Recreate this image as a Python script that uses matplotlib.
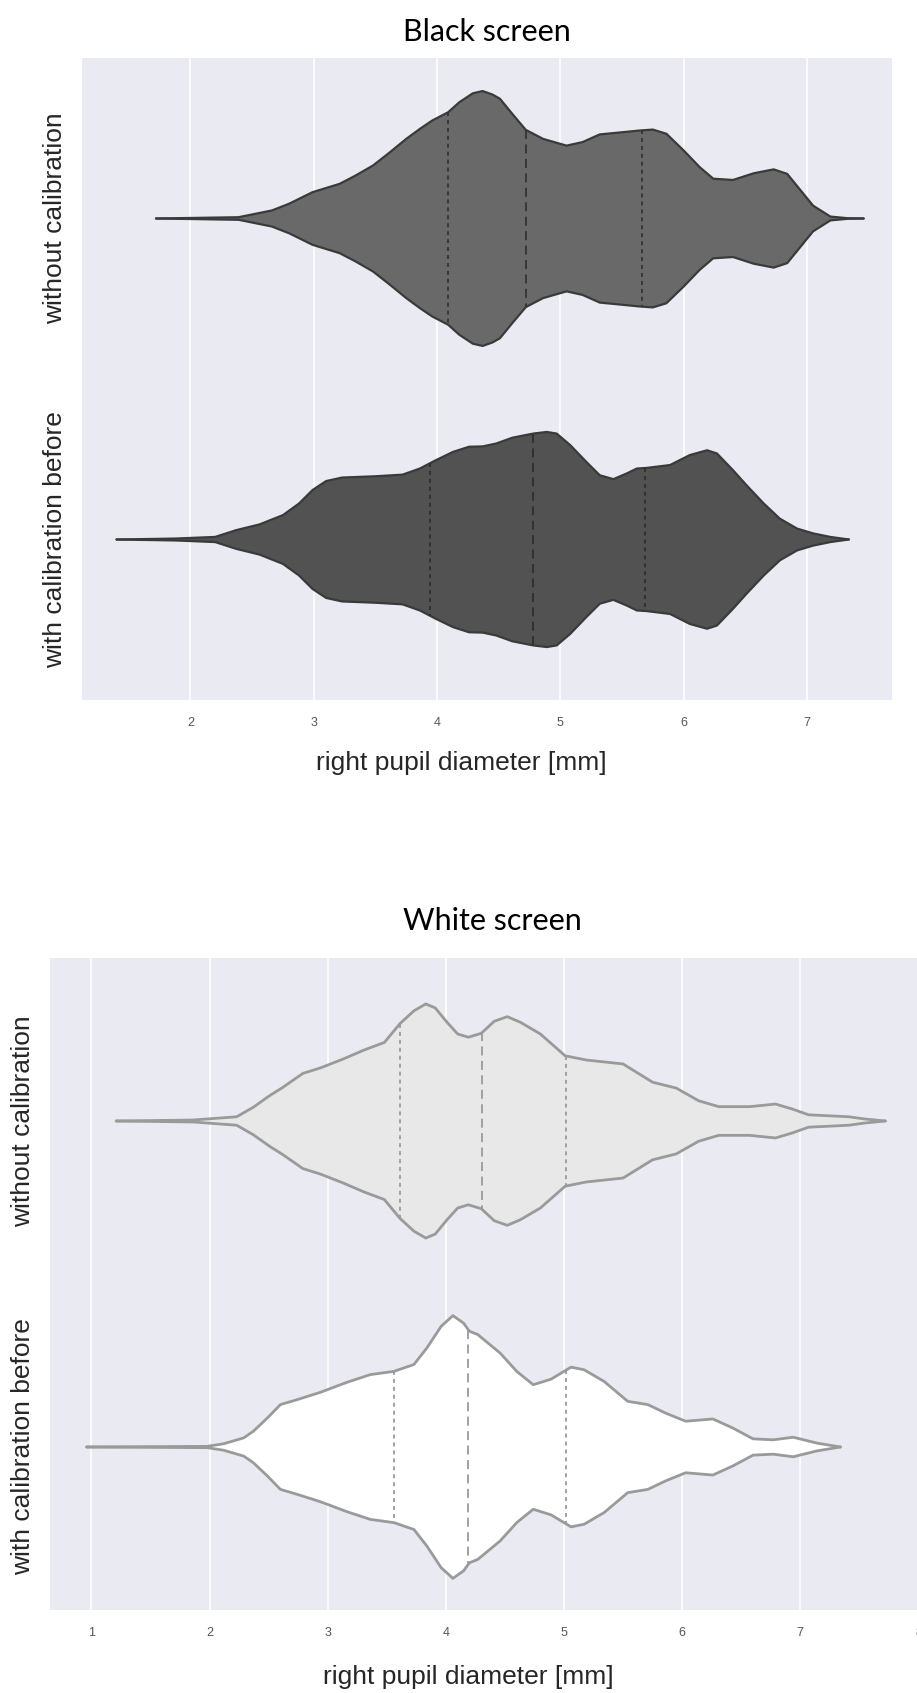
import matplotlib.pyplot as plt
import numpy as np

plt.rcParams.update({'font.family': 'Liberation Sans'})

categories = ["without calibration", "with calibration before"]

# Black screen - violin outlines (x in mm, half-width in category units)
black_without_x = [1.72, 2.39, 2.66, 2.80, 2.99, 3.21, 3.34, 3.48, 3.61, 3.75, 3.86, 3.96, 4.09, 4.18,
                   4.29, 4.37, 4.45, 4.51, 4.61, 4.72, 4.86, 5.05, 5.18, 5.32, 5.51, 5.64, 5.75, 5.86,
                   6.00, 6.13, 6.24, 6.40, 6.57, 6.73, 6.84, 6.95, 7.05, 7.19, 7.33, 7.46]
black_without_w = [0.0, 0.004, 0.025, 0.046, 0.082, 0.108, 0.134, 0.165, 0.204, 0.248, 0.279, 0.305,
                   0.331, 0.362, 0.39, 0.397, 0.386, 0.373, 0.326, 0.276, 0.248, 0.227, 0.238, 0.262,
                   0.269, 0.274, 0.277, 0.264, 0.212, 0.16, 0.124, 0.12, 0.141, 0.153, 0.139, 0.087,
                   0.04, 0.006, 0.001, 0.0]
black_without_q = [4.09, 4.72, 5.66]

black_with_x = [1.40, 1.88, 2.20, 2.37, 2.56, 2.75, 2.88, 2.99, 3.10, 3.23, 3.50, 3.72, 3.86, 3.99, 4.13,
                4.26, 4.37, 4.48, 4.61, 4.78, 4.89, 4.97, 5.08, 5.21, 5.32, 5.43, 5.54, 5.62, 5.70,
                5.89, 6.05, 6.19, 6.27, 6.40, 6.51, 6.65, 6.78, 6.92, 7.05, 7.19, 7.34]
black_with_w = [0.0, 0.003, 0.008, 0.029, 0.047, 0.076, 0.112, 0.154, 0.182, 0.193, 0.197, 0.202, 0.221,
                0.247, 0.273, 0.289, 0.29, 0.299, 0.317, 0.33, 0.335, 0.33, 0.294, 0.242, 0.20, 0.188,
                0.206, 0.221, 0.223, 0.232, 0.263, 0.278, 0.268, 0.216, 0.169, 0.112, 0.065, 0.034,
                0.019, 0.008, 0.0]
black_with_q = [3.94, 4.78, 5.69]

# White screen
white_without_x = [1.21, 1.86, 2.23, 2.37, 2.51, 2.62, 2.79, 2.94, 3.13, 3.31, 3.48, 3.61, 3.73, 3.83,
                   3.91, 4.01, 4.10, 4.19, 4.30, 4.41, 4.52, 4.63, 4.80, 5.01, 5.19, 5.50, 5.75, 5.95,
                   6.14, 6.31, 6.57, 6.79, 6.93, 7.07, 7.41, 7.55, 7.72]
white_without_w = [0.0, 0.003, 0.013, 0.042, 0.078, 0.103, 0.146, 0.163, 0.19, 0.218, 0.241, 0.298,
                   0.338, 0.359, 0.347, 0.303, 0.267, 0.257, 0.269, 0.306, 0.32, 0.303, 0.267, 0.20,
                   0.187, 0.175, 0.119, 0.101, 0.062, 0.044, 0.044, 0.052, 0.037, 0.019, 0.013, 0.006,
                   0.0]
white_without_q = [3.61, 4.31, 5.02]

white_with_x = [0.96, 1.98, 2.12, 2.29, 2.37, 2.49, 2.60, 2.74, 2.94, 3.16, 3.36, 3.56, 3.73, 3.84, 3.96,
                4.06, 4.15, 4.20, 4.27, 4.46, 4.60, 4.74, 4.89, 5.06, 5.17, 5.34, 5.54, 5.71, 5.86,
                6.03, 6.26, 6.43, 6.60, 6.77, 6.94, 7.14, 7.34]
white_with_w = [0.0, 0.002, 0.010, 0.028, 0.048, 0.089, 0.13, 0.145, 0.168, 0.198, 0.222, 0.232, 0.253,
                0.304, 0.37, 0.403, 0.38, 0.355, 0.345, 0.288, 0.232, 0.191, 0.208, 0.245, 0.237,
                0.201, 0.14, 0.13, 0.104, 0.079, 0.086, 0.058, 0.025, 0.022, 0.03, 0.012, 0.0]
white_with_q = [3.56, 4.19, 5.02]


def violin(ax, pos, xs, ws, quarts, face, edge, lw, inner):
    xs = np.array(xs)
    ws = np.array(ws)
    ax.fill_between(xs, pos - ws, pos + ws, facecolor=face, edgecolor='none', zorder=2)
    ax.plot(xs, pos - ws, color=edge, lw=lw, zorder=3, solid_joinstyle='round', solid_capstyle='round')
    ax.plot(xs, pos + ws, color=edge, lw=lw, zorder=3, solid_joinstyle='round', solid_capstyle='round')
    for k, q in enumerate(quarts):
        h = np.interp(q, xs, ws)
        dash = (0, (5, 3)) if k == 1 else (0, (2.2, 2.2))
        ax.plot([q, q], [pos - h, pos + h], color=inner, lw=1.3, linestyle=dash, zorder=4)


def style(ax, ticks):
    ax.set_facecolor('#eaeaf2')
    for s in ax.spines.values():
        s.set_visible(False)
    ax.set_xticks(ticks)
    ax.grid(axis='x', color='white', lw=1.2, zorder=0)
    ax.set_axisbelow(True)
    ax.set_yticks([0, 1])
    ax.set_yticklabels(categories, rotation=90, va='center', fontsize=19, color='#262626')
    ax.set_ylim(1.5, -0.5)
    ax.tick_params(axis='y', length=0, pad=11)
    ax.tick_params(axis='x', length=0, pad=12, labelsize=9, labelcolor='#555555')


fig = plt.figure(figsize=(9.17, 16.93), dpi=100)

ax1 = fig.add_axes([82 / 917, 1 - 700 / 1693, 810 / 917, 642 / 1693])
style(ax1, [2, 3, 4, 5, 6, 7])
ax1.set_xlim(1.12, 7.69)
violin(ax1, 0, black_without_x, black_without_w, black_without_q, '#696969', '#3a3a3a', 1.6, '#333333')
violin(ax1, 1, black_with_x, black_with_w, black_with_q, '#525252', '#3a3a3a', 1.6, '#2e2e2e')
ax1.set_title("Black screen", fontsize=22, family='Lato', pad=12)
ax1.set_xlabel("right pupil diameter [mm]", fontsize=19, color='#262626', labelpad=16)
ax1.xaxis.label.set_x(0.468)

ax2 = fig.add_axes([50 / 917, 1 - 1610 / 1693, 885 / 917, 652 / 1693])
style(ax2, [1, 2, 3, 4, 5, 6, 7, 8])
ax2.set_xlim(0.65, 8.14)
violin(ax2, 0, white_without_x, white_without_w, white_without_q, '#e8e8e8', '#9a9a9a', 2.0, '#9a9a9a')
violin(ax2, 1, white_with_x, white_with_w, white_with_q, '#ffffff', '#9a9a9a', 2.0, '#9a9a9a')
ax2.set_title("White screen", fontsize=22, family='Lato', pad=20)
ax2.set_xlabel("right pupil diameter [mm]", fontsize=19, color='#262626', labelpad=19)
ax2.xaxis.label.set_x(0.473)

fig.savefig("out.png", dpi=100)
